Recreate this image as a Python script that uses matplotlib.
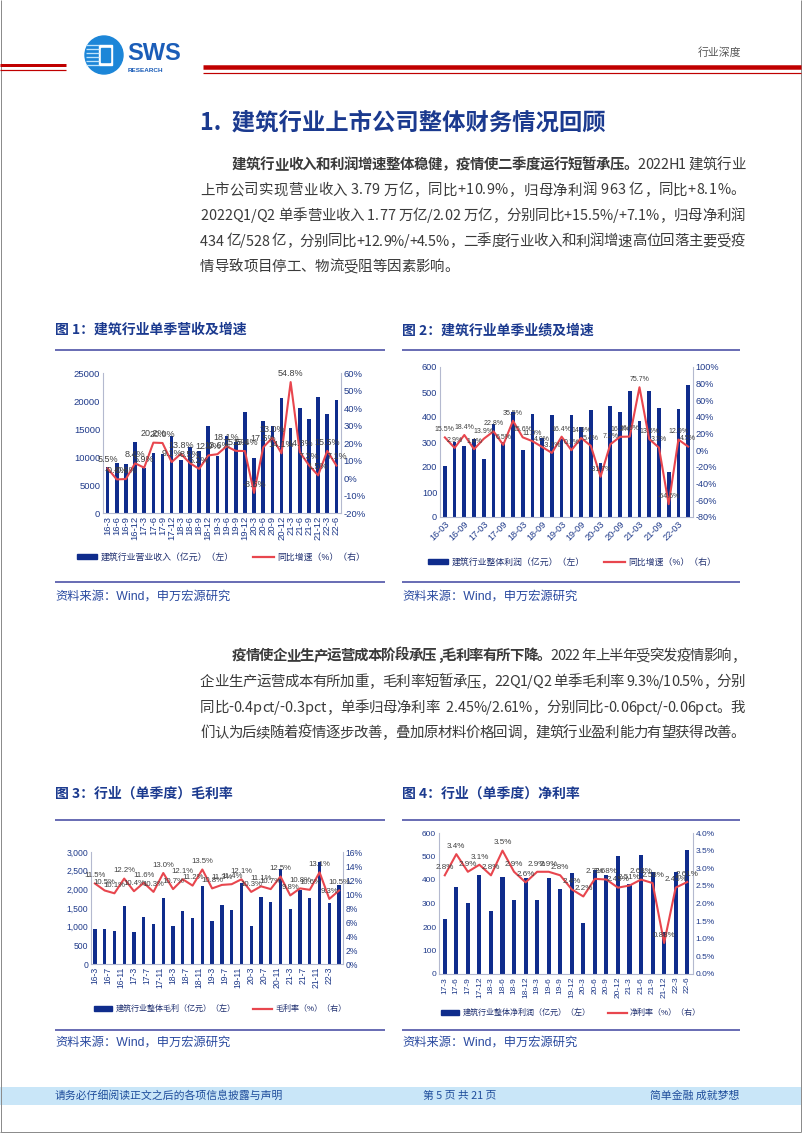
import numpy as np
import matplotlib
matplotlib.use('Agg')
import matplotlib.pyplot as plt
from matplotlib.lines import Line2D
from matplotlib.patches import Rectangle, Ellipse
from matplotlib.ticker import FuncFormatter

plt.rcParams['font.family'] = ['Liberation Sans', 'Noto Sans CJK SC']
plt.rcParams['axes.unicode_minus'] = False

# ---------------- data ----------------
# 图1 单季营收
rev_labels = ['16-3', '16-6', '16-9', '16-12', '17-3', '17-6', '17-9', '17-12',
              '18-3', '18-6', '18-9', '18-12', '19-3', '19-6', '19-9', '19-12',
              '20-3', '20-6', '20-9', '20-12', '21-3', '21-6', '21-9', '21-12',
              '22-3', '22-6']
rev = [8200, 9000, 8700, 12600, 8000, 10800, 10500, 13800, 9500, 11700, 11000, 15500,
       10200, 13800, 12700, 18000, 9900, 16400, 15600, 20500, 15200, 18800, 16800,
       20800, 17700, 20200]
rev_yoy = [5.5, -0.8, -0.6, 8.4, 5.9, 20.2, 20.0, 9.1, 13.8, 8.5, 5.2, 12.9, 13.6,
           18.1, 15.5, 15.4, -8.5, 17.5, 23.0, 14.1, 54.8, 14.8, 7.3, 1.5, 15.5, 7.1]

# 图2 单季业绩
prof_labels = ['16-03', '16-09', '17-03', '17-09', '18-03', '18-09', '19-03', '19-09',
               '20-03', '20-09', '21-03', '21-09', '22-03']
prof = [205, 302, 283, 311, 234, 371, 301, 421, 270, 412, 315, 408, 314, 410, 362, 430,
        218, 443, 421, 503, 383, 505, 435, 180, 434, 528]
prof_yoy = [15.5, 2.9, 18.4, 1.4, 13.9, 22.8, 6.5, 35.5, 15.6, 11.0, 4.0, -3.1, 16.4,
            0.1, 14.9, 5.4, -31.7, 7.2, 16.2, 16.5, 75.7, 13.5, 3.3, -64.6, 12.9, 4.5]

# 图3 毛利 (月度日期轴, 每4个月一个标签)
gp_labels = ['16-3', '16-7', '16-11', '17-3', '17-7', '17-11', '18-3', '18-7', '18-11',
             '19-3', '19-7', '19-11', '20-3', '20-7', '20-11', '21-3', '21-7', '21-11',
             '22-3']
gp = [925, 950, 880, 1545, 870, 1270, 1075, 1775, 1020, 1420, 1235, 2090, 1165, 1575,
      1455, 2160, 1015, 1800, 1670, 2555, 1485, 1990, 1780, 2730, 1630, 2120]
gm = [11.5, 10.5, 10.1, 12.2, 10.4, 11.6, 10.3, 13.0, 10.7, 12.1, 11.2, 13.5, 10.8,
      11.3, 11.4, 12.1, 10.3, 11.1, 10.7, 12.5, 9.8, 10.8, 10.6, 13.1, 9.3, 10.5]

# 图4 净利润
np_labels = ['17-3', '17-6', '17-9', '17-12', '18-3', '18-6', '18-9', '18-12',
             '19-3', '19-6', '19-9', '19-12', '20-3', '20-6', '20-9', '20-12',
             '21-3', '21-6', '21-9', '21-12', '22-3', '22-6']
net = [233, 371, 301, 421, 270, 412, 315, 408, 314, 410, 362, 430, 218, 443, 421, 503,
       383, 505, 435, 180, 434, 528]
nm = [2.8, 3.4, 2.9, 3.1, 2.8, 3.5, 2.9, 2.6, 2.9, 2.9, 2.8, 2.4, 2.2, 2.7, 2.68, 2.45,
      2.51, 2.68, 2.58, 0.88, 2.45, 2.61]

# ---------------- page ----------------
W, H = 802, 1133
fig = plt.figure(figsize=(W / 100, H / 100), dpi=100)
renderer = fig.canvas.get_renderer()

NAVY = '#0F2C8C'
RED = '#E8464E'
TICK = '#1F3A8A'
SPINE = '#B4B9CF'
BLUE_T = '#1B3A8F'
BODY = ['Noto Sans CJK SC']


def fx(x):
    return x / W


def fy(y):
    return 1 - y / H


def hline(x0, x1, y, color, w):
    fig.add_artist(Line2D([fx(x0), fx(x1)], [fy(y), fy(y)], transform=fig.transFigure,
                          color=color, lw=w * 0.72, solid_capstyle='butt'))


def vline(x, y0, y1, color, w):
    fig.add_artist(Line2D([fx(x), fx(x)], [fy(y0), fy(y1)], transform=fig.transFigure,
                          color=color, lw=w * 0.72, solid_capstyle='butt'))


# page frame
vline(0.5, 0, 1132, '#8C8C8C', 1)
vline(800.5, 0, 1132, '#8C8C8C', 1)
hline(0, 801, 1131.5, '#8C8C8C', 1)

# header red rules
hline(0, 66, 64.5, '#C00000', 3)
hline(0, 66, 70, '#C00000', 1.2)
hline(203, 801, 66.5, '#C00000', 4.5)
hline(203, 801, 73, '#C00000', 1.2)

# logo
fig.add_artist(Ellipse((fx(104), fy(55)), 38 / W, 38 / H, transform=fig.transFigure,
                       color='#1C86D8'))
for yy in [45, 49, 53, 57, 61, 65]:
    hline(86, 99, yy, '#BFE3FA', 1.3)
fig.add_artist(Rectangle((fx(99), fy(65)), 13 / W, 20 / H, transform=fig.transFigure,
                         color='white'))
fig.add_artist(Rectangle((fx(101), fy(62)), 9 / W, 14 / H, transform=fig.transFigure,
                         color='#1C86D8'))
fig.text(fx(127), fy(54), 'SWS', fontsize=17, weight='bold', color='#1B5DB8',
         va='center', ha='left', family=['Liberation Sans'])
fig.text(fx(128), fy(70), 'RESEARCH', fontsize=4.6, weight='bold', color='#1B5DB8',
         va='center', ha='left', family=['Liberation Sans'])
fig.text(fx(741), fy(53), '行业深度', fontsize=7.8, color='#555555', ha='right',
         va='center', family=BODY)

# section title
fig.text(fx(200), fy(123), '1.  建筑行业上市公司整体财务情况回顾', fontsize=16.8,
         weight='bold', color=BLUE_T, ha='left', va='center', family=BODY)

# ---- justified body text ----
_adv = {}


def adv(ch, weight, size):
    key = (ch, weight, size)
    if key not in _adv:
        t = fig.text(0, 0, '|' + ch + '|', fontsize=size, weight=weight, family=BODY)
        w1 = t.get_window_extent(renderer).width
        t.set_text('||')
        w0 = t.get_window_extent(renderer).width
        t.remove()
        _adv[key] = w1 - w0
    return _adv[key]


def body_line(x0, x1, y, segs, size=10.4, justify=True, color='#3A3A3A'):
    chars = [(c, w) for s, w in segs for c in s]
    widths = [adv(c, w, size) for c, w in chars]
    extra = (x1 - x0 - sum(widths)) / (len(chars) - 1) if justify else 0
    x = x0
    for (c, w), wd in zip(chars, widths):
        if c != ' ':
            fig.text(fx(x), fy(y), c, fontsize=size, weight=w, color=color,
                     ha='left', va='center', family=BODY)
        x += wd + extra


para1 = [
    [('建筑行业收入和利润增速整体稳健，疫情使二季度运行短暂承压。', 'bold'),
     ('2022H1 建筑行业', 'normal')],
    [('上市公司实现营业收入 3.79 万亿，同比+10.9%，归母净利润 963 亿，同比+8.1%。', 'normal')],
    [('2022Q1/Q2 单季营业收入 1.77 万亿/2.02 万亿，分别同比+15.5%/+7.1%，归母净利润', 'normal')],
    [('434 亿/528 亿，分别同比+12.9%/+4.5%，二季度行业收入和利润增速高位回落主要受疫', 'normal')],
    [('情导致项目停工、物流受阻等因素影响。', 'normal')],
]
para2 = [
    [('疫情使企业生产运营成本阶段承压 ,毛利率有所下降。', 'bold'),
     ('2022 年上半年受突发疫情影响，', 'normal')],
    [('企业生产运营成本有所加重，毛利率短暂承压，22Q1/Q2 单季毛利率 9.3%/10.5%，分别', 'normal')],
    [('同比-0.4pct/-0.3pct，单季归母净利率  2.45%/2.61%，分别同比-0.06pct/-0.06pct。我', 'normal')],
    [('们认为后续随着疫情逐步改善，叠加原材料价格回调，建筑行业盈利能力有望获得改善。', 'normal')],
]

for i, (segs, y) in enumerate(zip(para1, [165, 190.5, 216, 241.5, 267])):
    body_line(232 if i == 0 else 200, 745, y, segs, justify=(i < len(para1) - 1))
for i, (segs, y) in enumerate(zip(para2, [656, 682, 708, 733])):
    body_line(232 if i == 0 else 200, 745, y, segs, justify=True)

# chart titles, rules and sources
for x0, x1, title in [(55, 385, '图 1：建筑行业单季营收及增速'), (402, 740, '图 2：建筑行业单季业绩及增速')]:
    fig.text(fx(x0), fy(330), title, fontsize=10, weight='bold', color=BLUE_T,
             ha='left', va='center', family=BODY)
    hline(x0, x1, 350, '#6B6FB5', 2)
    hline(x0, x1, 582, '#6B6FB5', 2)
    fig.text(fx(x0), fy(597), '资料来源：Wind，申万宏源研究', fontsize=8.8, color='#2A4AA0',
             ha='left', va='center')
for x0, x1, title in [(55, 385, '图 3：行业（单季度）毛利率'), (402, 740, '图 4：行业（单季度）净利率')]:
    fig.text(fx(x0), fy(794), title, fontsize=10, weight='bold', color=BLUE_T,
             ha='left', va='center', family=BODY)
    hline(x0, x1, 820, '#6B6FB5', 2)
    hline(x0, x1, 1030, '#6B6FB5', 2)
    fig.text(fx(x0), fy(1043), '资料来源：Wind，申万宏源研究', fontsize=8.8, color='#2A4AA0',
             ha='left', va='center')

# footer
fig.add_artist(Rectangle((0, fy(1105)), 801 / W, 18 / H, transform=fig.transFigure,
                         color='#C9E6F8', lw=0))
fig.text(fx(55), fy(1096), '请务必仔细阅读正文之后的各项信息披露与声明', fontsize=7.8,
         color='#1F4E9C', ha='left', va='center', family=BODY)
fig.text(fx(460), fy(1096), '第 5 页 共 21 页', fontsize=7.8, color='#1F4E9C',
         ha='center', va='center', family=BODY)
fig.text(fx(739), fy(1096), '简单金融 成就梦想', fontsize=7.8, color='#1F4E9C',
         ha='right', va='center', family=BODY)


# ---------------- charts ----------------
def add_ax(x0, y0, x1, y1):
    return fig.add_axes([fx(x0), fy(y1), (x1 - x0) / W, (y1 - y0) / H])


def style(ax, ax2, size):
    for a in (ax, ax2):
        a.spines['top'].set_visible(False)
        a.tick_params(length=0, pad=2, labelsize=size, colors=TICK)
        a.set_facecolor('none')
    ax.spines['right'].set_visible(False)
    ax.spines['left'].set_color(SPINE)
    ax.spines['bottom'].set_color(SPINE)
    ax2.spines['right'].set_color(SPINE)
    ax2.spines['left'].set_visible(False)
    ax2.spines['bottom'].set_visible(False)


def labels(ax2, x, vals, fmt, size):
    for xi, v in zip(x, vals):
        ax2.annotate(fmt(v), (xi, v), xytext=(0, 3), textcoords='offset points',
                     ha='center', va='bottom', fontsize=size, color='#404040')


def legend(ax, names, cx, cy, size):
    h = [Rectangle((0, 0), 1, 1, color=NAVY), Line2D([], [], color=RED, lw=1.6)]
    ax.legend(h, names, loc='center', bbox_to_anchor=(fx(cx), fy(cy)),
              bbox_transform=fig.transFigure, ncol=2, frameon=False, fontsize=size,
              handlelength=2.3, handleheight=0.55, handletextpad=0.4,
              columnspacing=2.2, borderpad=0, labelcolor='#1F2F70')


pct0 = FuncFormatter(lambda v, p: f'{v:.0f}%')

# chart 1
ax = add_ax(103, 373, 341, 513)
ax2 = ax.twinx()
x = np.arange(len(rev))
ax.bar(x, rev, width=0.4, color=NAVY)
ax2.plot(x, rev_yoy, color=RED, lw=1.5)
ax.set_xlim(-0.5, len(rev) - 0.5)
ax.set_ylim(0, 25000)
ax.set_yticks(np.arange(0, 25001, 5000))
ax2.set_ylim(-20, 60)
ax2.set_yticks(np.arange(-20, 61, 10))
ax2.yaxis.set_major_formatter(pct0)
ax.set_xticks(x)
ax.set_xticklabels(rev_labels, rotation=90)
style(ax, ax2, 6.8)
labels(ax2, x, rev_yoy, lambda v: f'{v:.1f}%', 6.5)
legend(ax, ['建筑行业营业收入（亿元）（左）', '同比增速（%）（右）'], 221, 557, 6.4)

# chart 2
ax = add_ax(440, 367, 693, 517)
ax2 = ax.twinx()
x = np.arange(len(prof))
ax.bar(x, prof, width=0.38, color=NAVY)
ax2.plot(x, prof_yoy, color=RED, lw=1.5)
ax.set_xlim(-0.5, len(prof) - 0.5)
ax.set_ylim(0, 600)
ax.set_yticks(np.arange(0, 601, 100))
ax2.set_ylim(-80, 100)
ax2.set_yticks(np.arange(-80, 101, 20))
ax2.yaxis.set_major_formatter(pct0)
ax.set_xticks(x[::2])
ax.set_xticklabels(prof_labels, rotation=45, ha='right', rotation_mode='anchor')
style(ax, ax2, 6.6)
labels(ax2, x, prof_yoy, lambda v: f'{v:.1f}%', 5.0)
legend(ax, ['建筑行业整体利润（亿元）（左）', '同比增速（%）（右）'], 572, 562, 6.4)

# chart 3 (date axis in months)
ax = add_ax(91, 852, 343, 964)
ax2 = ax.twinx()
xm = np.arange(len(gp)) * 3
ax.bar(xm, gp, width=1.0, color=NAVY)
ax2.plot(xm, gm, color=RED, lw=1.5)
ax.set_xlim(-1.2, xm[-1] + 1.2)
ax.set_ylim(0, 3000)
ax.set_yticks(np.arange(0, 3001, 500))
ax.yaxis.set_major_formatter(FuncFormatter(lambda v, p: f'{v:,.0f}'))
ax2.set_ylim(0, 16)
ax2.set_yticks(np.arange(0, 17, 2))
ax2.yaxis.set_major_formatter(pct0)
ax.set_xticks(np.arange(len(gp_labels)) * 4)
ax.set_xticklabels(gp_labels, rotation=90)
style(ax, ax2, 6.2)
labels(ax2, xm, gm, lambda v: f'{v:.1f}%', 5.6)
legend(ax, ['建筑行业整体毛利（亿元）（左）', '毛利率（%）（右）'], 220, 1009, 5.8)

# chart 4
ax = add_ax(439, 833, 693, 974)
ax2 = ax.twinx()
x = np.arange(len(net))
ax.bar(x, net, width=0.36, color=NAVY)
ax2.plot(x, nm, color=RED, lw=1.5)
ax.set_xlim(-0.5, len(net) - 0.5)
ax.set_ylim(0, 600)
ax.set_yticks(np.arange(0, 601, 100))
ax2.set_ylim(0, 4)
ax2.set_yticks(np.arange(0, 4.01, 0.5))
ax2.yaxis.set_major_formatter(FuncFormatter(lambda v, p: f'{v:.1f}%'))
ax.set_xticks(x)
ax.set_xticklabels(np_labels, rotation=90)
style(ax, ax2, 6.0)
labels(ax2, x, nm, lambda v: f'{v:g}%', 5.8)
legend(ax, ['建筑行业整体净利润（亿元）（左）', '净利率（%）（右）'], 571, 1013, 5.8)

fig.savefig('out.png', dpi=100)
